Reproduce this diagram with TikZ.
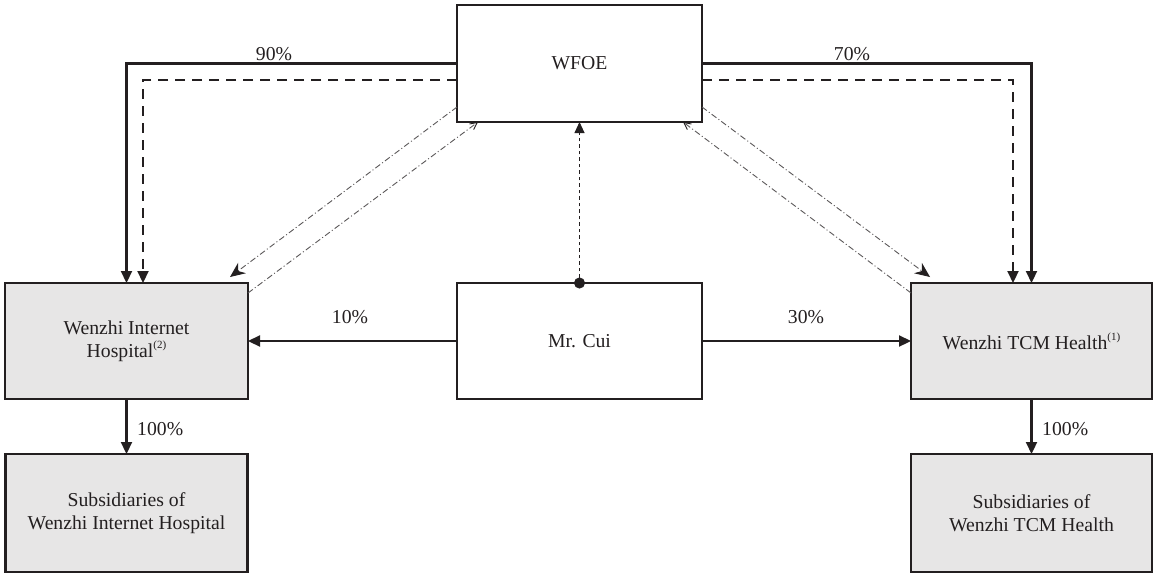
\documentclass[tikz,border=0pt]{standalone}
\usepackage{fontspec}
\setmainfont{Liberation Serif}
\usetikzlibrary{arrows.meta}
\definecolor{ink}{RGB}{35,31,32}
\definecolor{boxfill}{RGB}{231,230,230}
\newcommand\supnote[1]{\raisebox{0.45em}{\fontsize{11}{11}\selectfont #1}}
\begin{document}
\begin{tikzpicture}[x=1pt,y=-1pt,
  every node/.style={text=ink},
  fnt/.style={font=\fontsize{19.7}{23}\selectfont},
  box/.style={draw=ink, line width=2.4pt, fnt, align=center, inner sep=0pt, outer sep=0pt},
  greybox/.style={box, fill=boxfill},
  own/.style={draw=ink, line width=2.2pt, -{Triangle[length=12pt,width=11pt]}},
  ctrl/.style={draw=ink, line width=2.2pt, dash pattern=on 10pt off 7pt, -{Triangle[length=12pt,width=11pt]}},
  vie/.style={draw=ink!75, line width=0.9pt, dash pattern=on 6pt off 2.5pt on 1pt off 2.5pt},
  bigtip/.style={-{Stealth[length=15pt,width=13pt,inset=5pt,color=ink]}},
  opentip/.style={-{Straight Barb[length=7pt,width=7pt,color=ink]}},
  lbl/.style={fnt, inner sep=0pt, anchor=base}
]
\useasboundingbox (0,0) rectangle (1154,573);

\node[box, minimum width=245pt, minimum height=117pt] (wfoe) at (579.5,63.5) {WFOE};
\node[box, minimum width=245pt, minimum height=116pt] (cui) at (579.5,341) {Mr. Cui};
\node[greybox, minimum width=243pt, minimum height=116pt] (lh) at (126.5,341) {Wenzhi Internet\\Hospital\supnote{(2)}};
\node[greybox, minimum width=242pt, minimum height=118pt] (ls) at (126.5,513) {Subsidiaries of\\Wenzhi Internet Hospital};
\node[greybox, minimum width=241pt, minimum height=116pt] (rh) at (1031.5,341) {Wenzhi TCM Health\supnote{(1)}};
\node[greybox, minimum width=241pt, minimum height=118pt] (rs) at (1031.5,513) {Subsidiaries of\\Wenzhi TCM Health};

% ownership lines from WFOE
\draw[own] (wfoe.west) -| (lh.north);
\draw[ctrl] ([yshift=-16.5pt]wfoe.west) -| ([xshift=16.5pt]lh.north);
\draw[own] (wfoe.east) -| (rh.north);
\draw[ctrl] ([yshift=-16.5pt]wfoe.east) -| ([xshift=-18.5pt]rh.north);
\node[lbl] (l90) at (274,60) {90\%};
\node[lbl] (l70) at (852,60) {70\%};

% Mr. Cui
\draw[own] (cui.west) -- (lh.east);
\draw[own] (cui.east) -- (rh.west);
\node[lbl] (l10) at (350,323) {10\%};
\node[lbl] (l30) at (806,323) {30\%};
\draw[draw=ink, line width=0.9pt, dash pattern=on 3.5pt off 3pt, {Circle[length=11pt,width=11pt]}-{Triangle[length=11pt,width=10pt]}] ([yshift=-5.5pt]cui.north) -- (wfoe.south);

% subsidiaries
\draw[own] (lh.south) -- (ls.north);
\draw[own] (rh.south) -- (rs.north);
\node[lbl, anchor=base west] (l100a) at (137,435) {100\%};
\node[lbl, anchor=base west] (l100b) at (1042,435) {100\%};

% contractual arrangements (dash-dot)
\coordinate (ltip) at ([xshift=-18pt,yshift=6pt]lh.north east);
\coordinate (rtip) at ([xshift=19pt,yshift=6pt]rh.north west);
\draw[vie, bigtip] ([yshift=-43.5pt]wfoe.west) -- (ltip);
\draw[vie, opentip] ([yshift=-10pt]lh.north east) -- ([xshift=21pt]wfoe.south west);
\draw[vie, bigtip] ([yshift=-43.5pt]wfoe.east) -- (rtip);
\draw[vie, opentip] ([yshift=-10pt]rh.north west) -- ([xshift=-19pt]wfoe.south east);
\end{tikzpicture}
\end{document}
